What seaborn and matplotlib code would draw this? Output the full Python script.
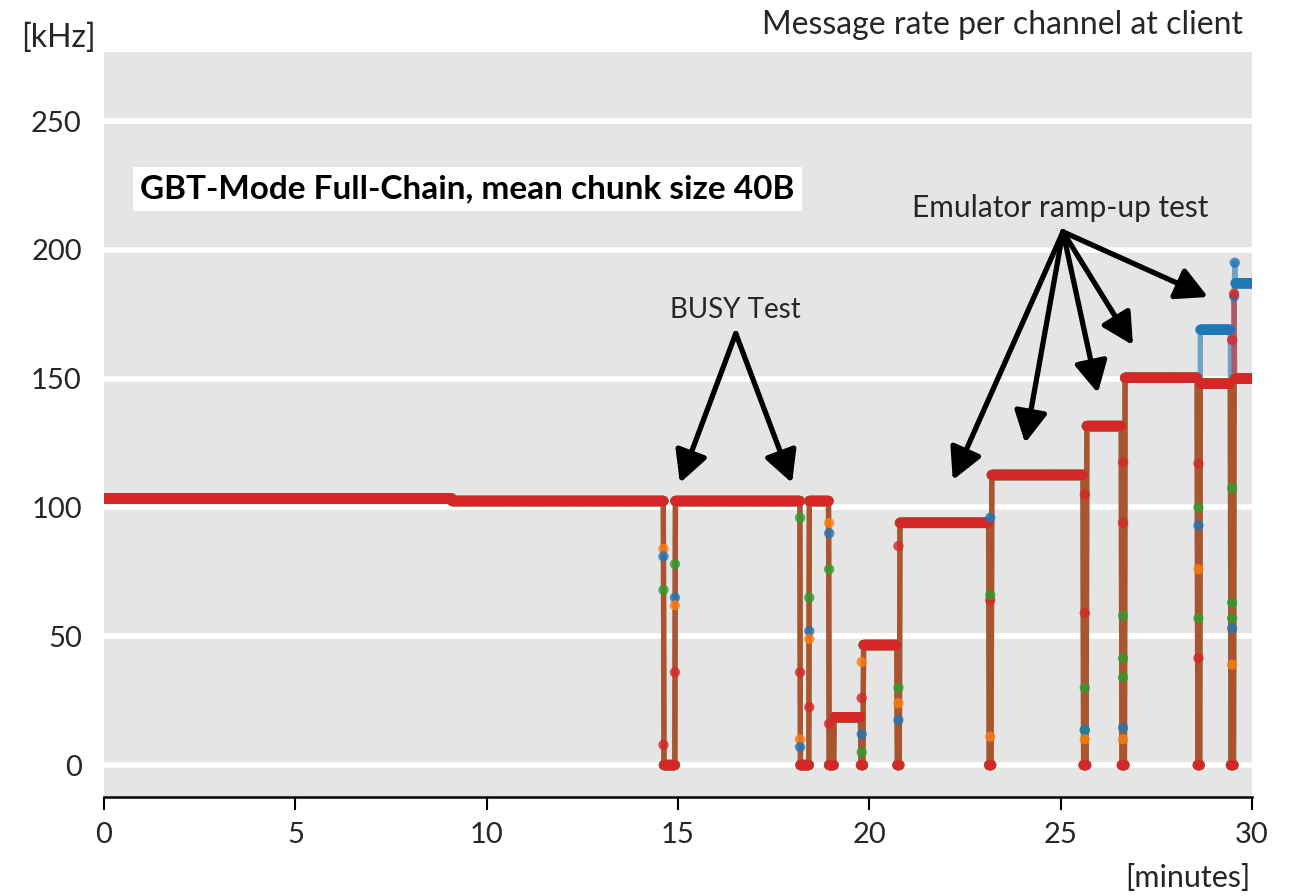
import numpy as np
import pandas as pd
import matplotlib
matplotlib.use("Agg")
import matplotlib.pyplot as plt
import seaborn as sns

# Rate profile shared by all channels: minute at which a level starts, level in kHz
step_minute = [0.00, 9.09, 14.62, 14.92, 18.19, 18.43, 18.95, 19.08, 19.78, 19.85,
               20.72, 20.80, 23.12, 23.20, 25.60, 25.67, 26.60, 26.67, 28.57, 28.64,
               29.45, 29.52]
step_khz = [103.5, 102.5, 0.0, 102.5, 0.0, 102.5, 0.0, 18.6, 0.0, 46.6,
            0.0, 94.0, 0.0, 112.6, 0.0, 131.6, 0.0, 150.3, 0.0, 148.0,
            0.0, 150.0]

# Channel-specific deviations at the end of the run
blue_tail_minute = [28.64, 29.45, 29.52, 29.54, 29.56]
blue_tail_khz = [169.0, 0.0, 182.0, 195.0, 187.0]
red_tail_minute = [29.52, 29.54]
red_tail_khz = [183.0, 150.0]

channels = ["ch0", "ch1", "ch2", "ch3"]
channel_colors = ["#1f77b4", "#ff7f0e", "#2ca02c", "#d62728"]

# Intermediate readings caught while a channel was switching levels
transient_channel = ["ch1", "ch0", "ch2", "ch3",
                     "ch2", "ch0", "ch1", "ch3",
                     "ch2", "ch3", "ch1", "ch0",
                     "ch2", "ch0", "ch1", "ch3",
                     "ch1", "ch0", "ch2", "ch3",
                     "ch3", "ch1", "ch2", "ch0",
                     "ch3", "ch2", "ch1", "ch0",
                     "ch3", "ch2", "ch0", "ch1",
                     "ch3", "ch3", "ch2", "ch2", "ch0", "ch1",
                     "ch3", "ch3", "ch2", "ch2", "ch2", "ch0", "ch1",
                     "ch3", "ch2", "ch0", "ch1", "ch2", "ch3",
                     "ch3", "ch2", "ch2", "ch2", "ch0", "ch1"]
transient_minute = [14.62, 14.62, 14.62, 14.62,
                    14.92, 14.92, 14.92, 14.92,
                    18.19, 18.19, 18.19, 18.19,
                    18.43, 18.43, 18.43, 18.43,
                    18.95, 18.95, 18.95, 18.95,
                    19.80, 19.80, 19.80, 19.80,
                    20.76, 20.76, 20.76, 20.76,
                    23.16, 23.16, 23.16, 23.16,
                    25.63, 25.63, 25.63, 25.63, 25.63, 25.63,
                    26.63, 26.63, 26.63, 26.63, 26.63, 26.63, 26.63,
                    28.60, 28.60, 28.60, 28.60, 28.60, 28.60,
                    29.48, 29.48, 29.48, 29.48, 29.48, 29.48]
transient_khz = [84, 81, 68, 7.8,
                 78, 65, 62, 36,
                 96, 36, 10, 7,
                 65, 52, 49, 22.5,
                 94, 90, 76, 16,
                 26, 40, 5, 12,
                 85, 30, 24, 17.5,
                 64, 66, 96, 11,
                 105, 59, 30, 13.6, 13.6, 10,
                 117.6, 94, 58, 41.5, 34, 14.5, 10,
                 117, 100, 93, 76, 57, 41.5,
                 165, 107.5, 63, 57, 53, 39]


def step_values(starts, levels, t):
    idx = np.searchsorted(np.asarray(starts), t, side="right") - 1
    return np.asarray(levels)[idx]


# one reading per second
minutes = np.arange(0, 30 * 60 + 1) / 60.0
frames = []
for ch in channels:
    rate = step_values(step_minute, step_khz, minutes)
    if ch == "ch0":
        tail = minutes >= blue_tail_minute[0]
        rate[tail] = step_values(blue_tail_minute, blue_tail_khz, minutes[tail])
    if ch == "ch3":
        tail = minutes >= red_tail_minute[0]
        rate[tail] = step_values(red_tail_minute, red_tail_khz, minutes[tail])
    frames.append(pd.DataFrame({"minute": minutes, "rate": rate, "channel": ch}))
series = pd.concat(frames, ignore_index=True)
transients = pd.DataFrame({"minute": transient_minute, "rate": transient_khz,
                           "channel": transient_channel})
points = pd.concat([series, transients], ignore_index=True)

sns.set_theme(style="darkgrid")
plt.rcParams["font.family"] = ["Lato", "DejaVu Sans"]
text_color = "#262626"

fig = plt.figure(figsize=(12.9, 8.96), dpi=100)
ax = fig.add_axes([104 / 1290, 1 - 797 / 896, (1252 - 104) / 1290, (797 - 52) / 896])
ax.set_facecolor("#e5e5e5")

palette = dict(zip(channels, channel_colors))
sns.lineplot(data=series, x="minute", y="rate", hue="channel", hue_order=channels,
             palette=palette, estimator=None, linewidth=3.8, alpha=0.6,
             legend=False, ax=ax, zorder=2)
sns.scatterplot(data=points, x="minute", y="rate", hue="channel", hue_order=channels,
                palette=palette, s=55, linewidth=0, alpha=0.8, legend=False,
                ax=ax, zorder=3)

ax.set_xlim(0, 30)
ax.set_ylim(-12.4, 276.8)
ax.set_xticks([0, 5, 10, 15, 20, 25, 30])
ax.set_yticks([0, 50, 100, 150, 200, 250])
ax.grid(axis="x", visible=False)
ax.grid(axis="y", color="white", linewidth=4)
ax.set_axisbelow(True)
for side in ["top", "left", "right"]:
    ax.spines[side].set_visible(False)
ax.spines["bottom"].set_visible(True)
ax.spines["bottom"].set_color("black")
ax.spines["bottom"].set_linewidth(1.8)
ax.tick_params(axis="x", bottom=True, direction="out", length=9, width=1.5,
               color="black", pad=9, labelsize=21, labelcolor=text_color)
ax.tick_params(axis="y", left=False, length=0, pad=16, labelsize=21,
               labelcolor=text_color)
ax.set_xlabel("")
ax.set_ylabel("")

fig.text(58 / 1290, 1 - 38 / 896, "[kHz]", ha="center", va="center",
         fontsize=23, color=text_color)
fig.text(1243 / 1290, 1 - 25 / 896, "Message rate per channel at client",
         ha="right", va="center", fontsize=23, color=text_color)
fig.text(1250 / 1290, 1 - 878 / 896, "[minutes]", ha="right", va="center",
         fontsize=22, color=text_color)

ax.text(0.94, 223.6, "GBT-Mode Full-Chain, mean chunk size 40B", ha="left",
        va="center", fontsize=24, fontweight="bold", color="black",
        bbox=dict(boxstyle="square,pad=0.22", facecolor="white", edgecolor="none"),
        zorder=5)

arrow = dict(arrowstyle="-|>,head_length=0.95,head_width=0.5", color="black",
             lw=3.8, shrinkA=0, shrinkB=0, mutation_scale=20)

ax.text(16.51, 176.6, "BUSY Test", ha="center", va="center", fontsize=20,
        color=text_color)
for tip in [(15.05, 109.5), (17.98, 109.5)]:
    ax.annotate("", xy=tip, xytext=(16.51, 167.5), arrowprops=arrow, zorder=6)

ax.text(24.99, 216.2, "Emulator ramp-up test", ha="center", va="center",
        fontsize=21.5, color=text_color)
for tip in [(22.18, 110.6), (24.07, 125.0), (25.97, 144.4), (26.89, 163.0),
            (28.85, 181.7)]:
    ax.annotate("", xy=tip, xytext=(25.06, 207.0), arrowprops=arrow, zorder=6)

fig.savefig("out.png", dpi=100)
